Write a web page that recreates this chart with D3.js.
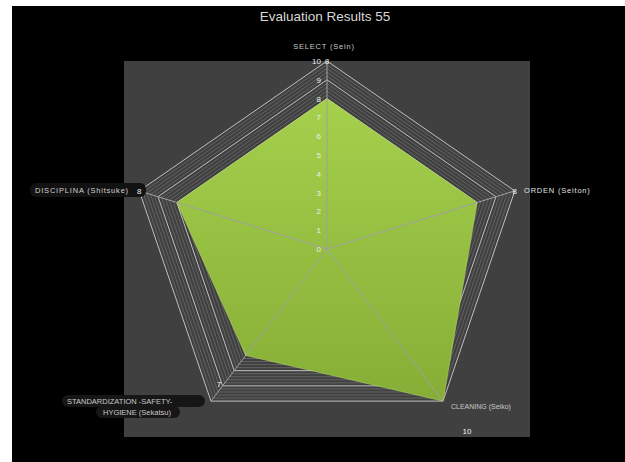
<!DOCTYPE html>
<html>
<head>
<meta charset="utf-8">
<script src="https://cdn.jsdelivr.net/npm/d3@7"></script>
<style>
  body { margin: 0; background: #fff; }
  svg { display: block; font-family: "Liberation Sans", Arial, sans-serif; }
</style>
</head>
<body>
<svg id="chart" width="625" height="462"></svg>
<script>
// data
const categories = ["SELECT (Sein)", "ORDEN (Seiton)", "CLEANING (Seiko)",
                    "STANDARDIZATION -SAFETY- HYGIENE (Sekatsu)", "DISCIPLINA (Shitsuke)"];
const scores = [8, 8, 10, 7, 8];
const tickValues = [0, 1, 2, 3, 4, 5, 6, 7, 8, 9, 10];

const svg = d3.select("#chart");
const cx = 327, cy = 249, sx = 1.05;

// background
svg.append("rect").attr("x", 12).attr("y", 6).attr("width", 613).attr("height", 456).attr("fill", "#000");
svg.append("rect").attr("x", 124).attr("y", 61).attr("width", 406).attr("height", 376).attr("fill", "#404040");

svg.append("text")
    .attr("x", 325).attr("y", 21)
    .style("text-anchor", "middle")
    .style("font-size", "13.5px")
    .attr("fill", "#d8d8d8")
    .text("Evaluation Results 55");

// radial scale
let r = d3.scaleLinear().domain([0, 10]).range([0, 188]);
let angle = i => (-90 + 72 * i) * Math.PI / 180;
let pt = (v, i) => [cx + sx * r(v) * Math.cos(angle(i)), cy + r(v) * Math.sin(angle(i))];

// grid rings, minor every 0.2 and major every 1
let rings = d3.range(1, 51).map(k => k / 5);
let isMajor = v => Math.abs(v - Math.round(v)) < 1e-6;
let line = d3.line();
svg.append("g").selectAll("path")
    .data(rings).enter().append("path")
    .attr("d", v => line(categories.map((c, i) => pt(v, i))) + "Z")
    .attr("fill", "none")
    .attr("stroke", v => isMajor(v) ? "#cfcfcf" : "#7a7a7a")
    .attr("stroke-width", v => isMajor(v) ? 0.9 : 0.6);

// green area
let defs = svg.append("defs");
let grad = defs.append("linearGradient").attr("id", "green").attr("x1", 0).attr("y1", 0).attr("x2", 0).attr("y2", 1);
grad.append("stop").attr("offset", "0%").attr("stop-color", "#a5d04c");
grad.append("stop").attr("offset", "100%").attr("stop-color", "#86ae36");

svg.append("path")
    .datum(scores)
    .attr("d", d => line(d.map((v, i) => pt(v, i))) + "Z")
    .attr("fill", "url(#green)")
    .attr("stroke", "#b5d96a")
    .attr("stroke-width", 0.6);

// spokes
svg.append("g").selectAll("line")
    .data(categories).enter().append("line")
    .attr("x1", cx).attr("y1", cy)
    .attr("x2", (d, i) => pt(10, i)[0])
    .attr("y2", (d, i) => pt(10, i)[1])
    .attr("stroke", "#a0a0a0")
    .attr("stroke-width", 1);

// tick labels along the top spoke
svg.append("g").selectAll("text")
    .data(tickValues).enter().append("text")
    .attr("x", 321)
    .attr("y", v => cy - r(v) + 3)
    .style("text-anchor", "end")
    .style("font-size", "8px")
    .attr("fill", "#eeeeee")
    .text(v => v);

// category labels
let labelStyle = sel => sel.style("font-size", "7.5px").attr("fill", "#c8c8c8");

svg.append("text").attr("x", 324).attr("y", 49).style("text-anchor", "middle")
    .call(labelStyle).style("letter-spacing", "0.8px").text(categories[0]);
svg.append("text").attr("x", 524).attr("y", 193)
    .call(labelStyle).style("letter-spacing", "0.8px").attr("fill", "#e0e0e0").text(categories[1]);
svg.append("text").attr("x", 451).attr("y", 409)
    .call(labelStyle).style("font-size", "7px").text(categories[2]);

// label boxes
svg.append("rect").attr("x", 62).attr("y", 395).attr("width", 143).attr("height", 12).attr("rx", 6).attr("fill", "#161616");
svg.append("rect").attr("x", 96).attr("y", 406).attr("width", 84).attr("height", 12).attr("rx", 6).attr("fill", "#161616");
svg.append("text").attr("x", 67).attr("y", 404)
    .call(labelStyle).text("STANDARDIZATION -SAFETY-");
svg.append("text").attr("x", 103).attr("y", 415)
    .call(labelStyle).text("HYGIENE (Sekatsu)");

svg.append("rect").attr("x", 30).attr("y", 183).attr("width", 116).attr("height", 14).attr("rx", 6).attr("fill", "#121212");
svg.append("text").attr("x", 35).attr("y", 193)
    .call(labelStyle).style("letter-spacing", "0.8px").attr("fill", "#d0d0d0").text(categories[4]);

// data labels at outer vertices
let dataLabels = [
    {i: 0, dx: 0, dy: 3},
    {i: 1, dx: 0, dy: 3},
    {i: 2, dx: 24, dy: 33},
    {i: 3, dx: 8, dy: -14},
    {i: 4, dx: 0, dy: 3}
];
svg.append("g").selectAll("text")
    .data(dataLabels).enter().append("text")
    .attr("x", d => pt(10, d.i)[0] + d.dx)
    .attr("y", d => pt(10, d.i)[1] + d.dy)
    .style("text-anchor", "middle")
    .style("font-size", "8px")
    .attr("fill", "#f0f0f0")
    .text(d => scores[d.i]);
</script>
</body>
</html>
